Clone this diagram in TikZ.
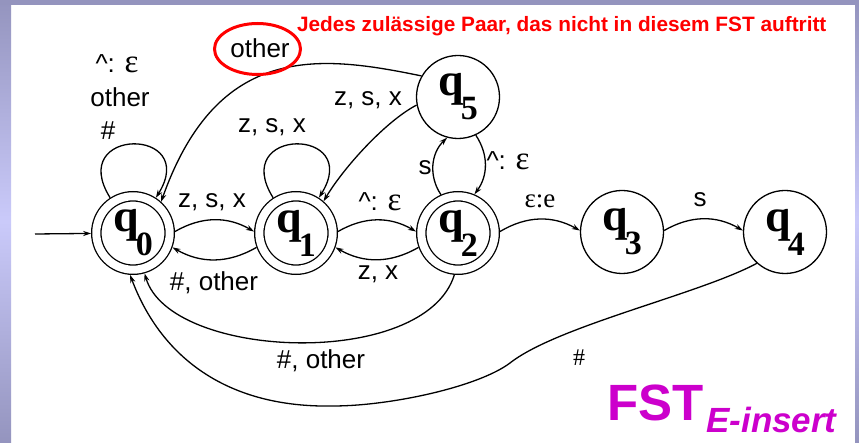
\documentclass[tikz,border=0pt]{standalone}
\usepackage{fontspec}
\setmainfont{Liberation Sans}
\newfontfamily\qserif{Liberation Serif}
\usetikzlibrary{arrows.meta}
\definecolor{stripdark}{RGB}{148,148,190}
\definecolor{striplight}{RGB}{202,202,250}
\definecolor{fstmag}{RGB}{204,0,204}
\newcommand\qlab[1]{{\qserif\bfseries\fontsize{46}{46}\selectfont q\kern-3pt\raisebox{-24pt}{\fontsize{34}{34}\selectfont #1}}}
\newcommand\eps{{\qserif\fontsize{33}{33}\selectfont ε}}
\begin{document}
\begin{tikzpicture}[x=1pt,y=-1pt,
  >={Stealth[length=8pt,width=5.2pt]},
  every node/.style={inner sep=0pt, outer sep=0pt},
  statebox/.style={circle, draw, line width=1.3pt, minimum size=83pt, inner sep=0pt, outer sep=0.65pt},
  acceptbox/.style={circle, draw, line width=1.3pt, double, double distance=8pt, minimum size=73.4pt, inner sep=0pt, outer sep=5.3pt},
  lab/.style={anchor=base, font=\fontsize{26}{28}\selectfont},
  conn/.style={->, line width=1.3pt},
  redring/.style={draw=red, line width=3pt},
]
\useasboundingbox (0,0) rectangle (859,443);
% background
\fill[white] (0,0) rectangle (859,443);
\shade[top color=stripdark, bottom color=stripdark, middle color=striplight] (0,0) rectangle (11,443);
\shade[top color=stripdark, bottom color=stripdark, middle color=striplight] (855,0) rectangle (859,443);
\fill[stripdark] (0,0) rectangle (859,5);

% states
\node[acceptbox] (q0) at (133,233) {\qlab{0}};
\node[acceptbox] (q1) at (296,233) {\qlab{1}};
\node[acceptbox] (q2) at (458,233) {\qlab{2}};
\node[statebox] (q5) at (458,97) {\qlab{5}};
\node[statebox] (q3) at (622,232) {\qlab{3}};
\node[statebox] (q4) at (785,232) {\qlab{4}};

% start arrow
\coordinate (start) at (35,234);
\draw[conn] (start) -- (q0);

% loops
\draw[conn] (q0.123) .. controls +(122:84pt) and +(58:84pt) .. (q0.57);
\draw[conn] (q1.123) .. controls +(122:84pt) and +(58:84pt) .. (q1.57);

% horizontal arcs
\draw[conn] (q0.2) to[bend left=30] (q1.178);
\draw[conn] (q1.200) to[bend left=30] (q0.340);
\draw[conn] (q1.2) to[bend left=30] (q2.178);
\draw[conn] (q2.200) to[bend left=30] (q1.340);
\draw[conn] (q2.2) to[bend left=30] (q3.178);
\draw[conn] (q3.2) to[bend left=30] (q4.178);

% q2 <-> q5
\draw[conn] (q2.114) to[bend left=40] (q5.255);
\draw[conn] (q5.295) to[bend left=35] (q2.67);

% from q5
\draw[conn] (q5.150) .. controls (320,55) and (218,42) .. (q0.48);
\draw[conn] (q5.191) .. controls (386,121) and (344,167) .. (q1.49);

% back to q0
\draw[conn] (q2.265) .. controls (425,370) and (170,360) .. (q0.286);
\coordinate (m1) at (510,363);
\coordinate (m2) at (333,406);
\draw[conn] (q4.228) .. controls (700,294) and (557,326) .. (m1)
  .. controls (478,387) and (390,406) .. (m2)
  .. controls (230,408) and (162,360) .. (q0.266);

% labels
\node[lab] (l0a) at (117,73) {\textasciicircum: \eps};
\node[lab] (l0b) at (120,107) {other};
\node[lab] (l0c) at (108,140) {\#};
\node[lab] (l1) at (272,133) {z, s, x};
\node[lab] (l01) at (212,208) {z, s, x};
\node[lab] (l10) at (214,291) {\#, other};
\node[lab] (l12) at (380,211) {\textasciicircum: \eps};
\node[lab] (l21) at (378,280) {z, x};
\node[lab] (l51) at (368,106) {z, s, x};
\node[lab] (l50) at (260,58) {other};
\draw[redring] (257.5,49) ellipse [x radius=43pt, y radius=25.5pt];
\node[lab] (l25) at (425,175) {s};
\node[lab] (l52) at (508,170) {\textasciicircum: \eps};
\node[lab, font=\qserif\fontsize{27}{28}\selectfont] (l23) at (540,208) {ε:e};
\node[lab] (l34) at (700,207) {s};
\node[lab] (l20) at (321,368) {\#, other};
\node[lab, font=\qserif\fontsize{24}{26}\selectfont] (l40) at (579,366) {\#};

% titles
\node[anchor=base west, text=red, font=\fontsize{20.8}{22}\selectfont\bfseries] (title) at (297,32) {Jedes zulässige Paar, das nicht in diesem FST auftritt};
\node[anchor=base west, text=fstmag, font=\fontsize{51}{51}\selectfont\bfseries] (fst) at (607,420) {FST\kern3pt\raisebox{-12pt}{\fontsize{35}{35}\selectfont\bfseries\itshape E-insert}};
\end{tikzpicture}
\end{document}
